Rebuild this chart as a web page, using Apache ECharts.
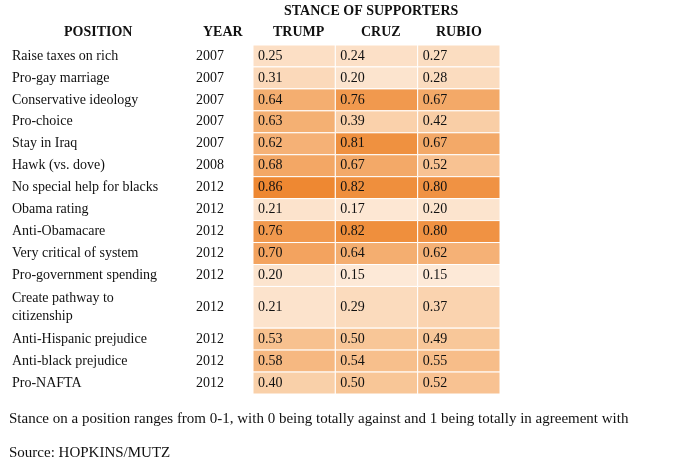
<!DOCTYPE html>
<html>
<head>
<meta charset="utf-8">
<script src="https://cdn.jsdelivr.net/npm/echarts@6/dist/echarts.min.js"></script>
<style>html,body{margin:0;background:#fff}#chart{width:680px;height:471px}</style>
</head>
<body>
<div id="chart"></div>
<script>
const positions = ["Raise taxes on rich", "Pro-gay marriage", "Conservative ideology", "Pro-choice",
  "Stay in Iraq", "Hawk (vs. dove)", "No special help for blacks", "Obama rating", "Anti-Obamacare",
  "Very critical of system", "Pro-government spending", "Create pathway to\ncitizenship",
  "Anti-Hispanic prejudice", "Anti-black prejudice", "Pro-NAFTA"];
const years = [2007, 2007, 2007, 2007, 2007, 2008, 2012, 2012, 2012, 2012, 2012, 2012, 2012, 2012, 2012];
const candidates = ["TRUMP", "CRUZ", "RUBIO"];
const trump = [0.25, 0.31, 0.64, 0.63, 0.62, 0.68, 0.86, 0.21, 0.76, 0.70, 0.20, 0.21, 0.53, 0.58, 0.40];
const cruz = [0.24, 0.20, 0.76, 0.39, 0.81, 0.67, 0.82, 0.17, 0.82, 0.64, 0.15, 0.29, 0.50, 0.54, 0.50];
const rubio = [0.27, 0.28, 0.67, 0.42, 0.67, 0.52, 0.80, 0.20, 0.80, 0.62, 0.15, 0.37, 0.49, 0.55, 0.52];

const font = '"Liberation Serif", "Times New Roman", serif';
const cols = [trump, cruz, rubio];

// row start positions (multi-line labels take more room)
const rowStart = [];
let acc = 0;
positions.forEach((p, i) => {
  rowStart.push(acc);
  acc += p.includes("\n") ? 1.9 : 1;
});
const total = acc;

const data = [];
positions.forEach((p, i) => {
  cols.forEach((c, j) => data.push([j, i, c[i]]));
});

const chart = echarts.init(document.getElementById("chart"));
chart.setOption({
  animation: false,
  grid: { left: 253, right: 180, top: 45, bottom: 77 },
  xAxis: { type: "value", min: 0, max: 3, show: false },
  yAxis: { type: "value", min: 0, max: total, inverse: true, show: false },
  visualMap: {
    show: false, min: 0.15, max: 0.86, dimension: 2,
    inRange: { color: ["#fde9d7", "#f8c596", "#ee8832"] }
  },
  series: [{
    type: "custom",
    data: data,
    renderItem: (params, api) => {
      const j = api.value(0), i = api.value(1), v = api.value(2);
      const y0 = rowStart[i];
      const h = positions[i].includes("\n") ? 1.9 : 1;
      const p0 = api.coord([j, y0]);
      const p1 = api.coord([j + 1, y0 + h]);
      const cy = (p0[1] + p1[1]) / 2;
      const children = [
        { type: "rect", shape: { x: p0[0], y: p0[1], width: p1[0] - p0[0], height: p1[1] - p0[1] },
          style: { fill: api.visual("color"), stroke: "#fff", lineWidth: 1 } },
        { type: "text", style: { x: p0[0] + 5, y: cy, text: v.toFixed(2), font: "14px " + font,
          fill: "#111", verticalAlign: "middle" } }
      ];
      if (j === 0) {
        children.push(
          { type: "text", style: { x: p0[0] - 241, y: cy, text: positions[i], font: "14px " + font,
            fill: "#111", verticalAlign: "middle", lineHeight: 18 } },
          { type: "text", style: { x: p0[0] - 57, y: cy, text: String(years[i]), font: "14px " + font,
            fill: "#111", verticalAlign: "middle" } }
        );
      }
      return { type: "group", children: children };
    }
  }],
  graphic: [
    { type: "text", left: 284, top: 4, style: { text: "STANCE OF SUPPORTERS", font: "bold 14px " + font, fill: "#111" } },
    { type: "text", left: 64, top: 25, style: { text: "POSITION", font: "bold 14px " + font, fill: "#111" } },
    { type: "text", left: 203, top: 25, style: { text: "YEAR", font: "bold 14px " + font, fill: "#111" } },
    { type: "text", left: 273, top: 25, style: { text: candidates[0], font: "bold 14px " + font, fill: "#111" } },
    { type: "text", left: 361, top: 25, style: { text: candidates[1], font: "bold 14px " + font, fill: "#111" } },
    { type: "text", left: 436, top: 25, style: { text: candidates[2], font: "bold 14px " + font, fill: "#111" } },
    { type: "text", left: 9, top: 412, style: { text: "Stance on a position ranges from 0-1, with 0 being totally against and 1 being totally in agreement with", font: "15px " + font, fill: "#111" } },
    { type: "text", left: 9, top: 446, style: { text: "Source: HOPKINS/MUTZ", font: "15px " + font, fill: "#111" } }
  ]
});
</script>
</body>
</html>
